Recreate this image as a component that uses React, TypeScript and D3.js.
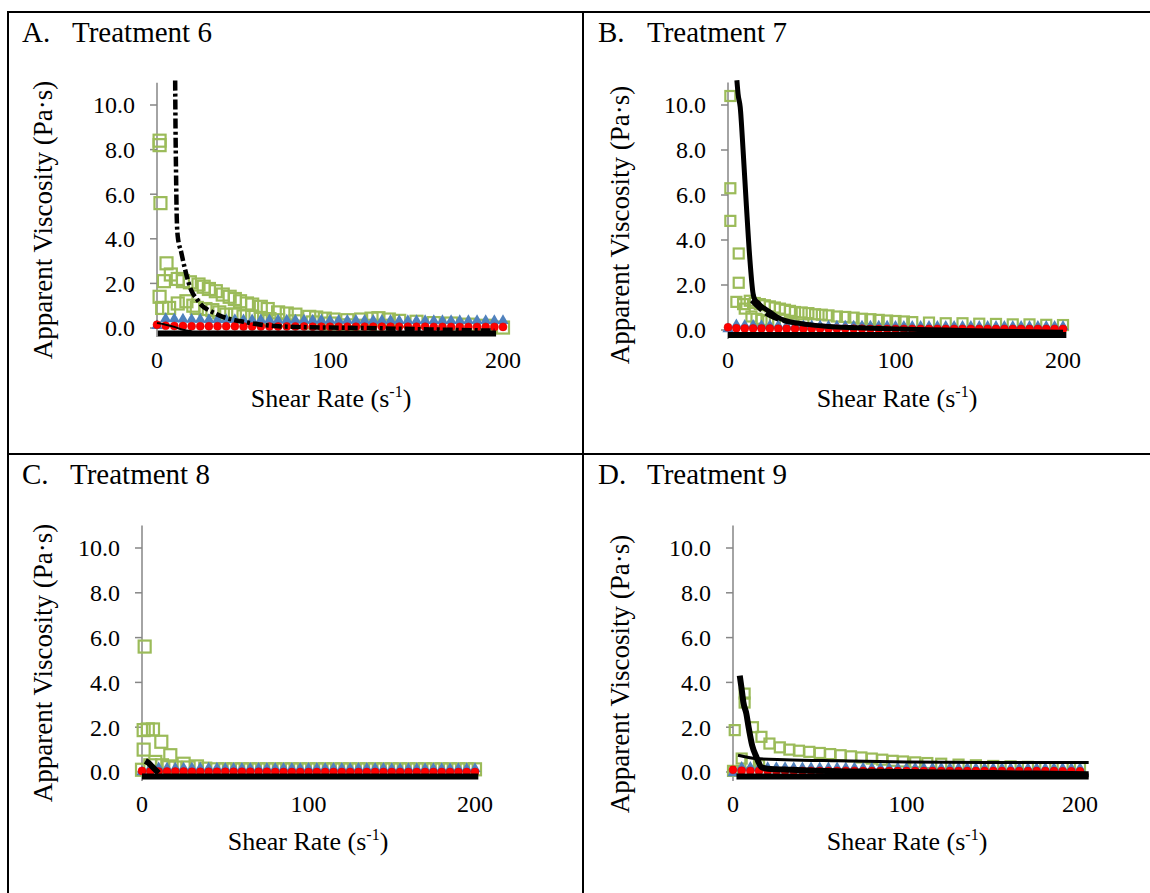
import * as React from 'react'
import * as d3 from 'd3'

type Pt = [number, number]

// shear rate steps of the blue / red replicates
const shearRates = [0, 5, 10, 15, 20, 25, 30, 35, 40, 45, 50, 55, 60, 65, 70, 75, 80, 85, 90, 95, 100,
  105, 110, 115, 120, 125, 130, 135, 140, 145, 150, 155, 160, 165, 170, 175, 180, 185, 190, 195, 200]

const yTicks = [0, 2, 4, 6, 8, 10]
const xTicks = [0, 100, 200]
const panelLetters = ['A.', 'B.', 'C.', 'D.']
const panelNames = ['Treatment 6', 'Treatment 7', 'Treatment 8', 'Treatment 9']

// ---- Treatment 6
const blueA = [0.1, 0.42, 0.4, 0.39, 0.38, 0.38, 0.37, 0.37, 0.37, 0.37,
  0.36, 0.36, 0.36, 0.36, 0.35, 0.35, 0.35, 0.35, 0.35, 0.35,
  0.34, 0.34, 0.34, 0.34, 0.34, 0.34, 0.34, 0.34, 0.33, 0.33,
  0.33, 0.33, 0.33, 0.33, 0.33, 0.33, 0.32, 0.32, 0.32, 0.32, 0.32]
const redA = [0.15, 0.1, 0.09, 0.09, 0.08, 0.08, 0.08, 0.08, 0.08, 0.08,
  0.07, 0.07, 0.07, 0.07, 0.07, 0.07, 0.07, 0.07, 0.06, 0.06,
  0.06, 0.06, 0.06, 0.06, 0.06, 0.06, 0.06, 0.06, 0.06, 0.06,
  0.06, 0.06, 0.05, 0.05, 0.05, 0.05, 0.05, 0.05, 0.05, 0.05, 0.05]
const greenA: Pt[] = [
  [1.5, 8.4], [1.5, 8.2], [2, 5.6], [5.5, 2.9], [4, 2.1], [1.5, 1.4], [3, 0.9],
  [8, 2.4], [12, 2.2], [15, 2.1], [19, 2.05], [24, 1.95], [27, 1.85], [30, 1.75], [34, 1.65],
  [38, 1.5], [42, 1.4], [45, 1.3], [48, 1.2], [52, 1.1], [55, 1.05], [60, 0.95], [64, 0.85],
  [70, 0.7], [75, 0.65], [80, 0.6], [88, 0.5], [92, 0.47], [97, 0.42], [102, 0.38], [110, 0.35],
  [118, 0.38], [124, 0.42], [128, 0.44], [134, 0.38], [140, 0.32], [150, 0.28], [160, 0.22],
  [170, 0.2], [180, 0.15], [190, 0.1], [200, 0.02],
  [7, 0.9], [12, 1.1], [17, 1.2], [21, 1.0], [23, 0.9], [28, 0.85], [32, 0.8], [36, 0.7],
  [40, 0.6], [45, 0.6], [50, 0.52], [55, 0.5], [60, 0.45], [65, 0.4], [70, 0.35], [80, 0.3],
  [90, 0.25], [100, 0.2], [110, 0.12], [120, 0.1], [130, 0.1]
]
const fitA: Pt[] = [[10.5, 11.1], [10.7, 9], [11, 7], [11.4, 5], [12, 4.1], [14, 3.4], [16, 2.7],
  [18, 2.1], [20, 1.65], [23, 1.3], [26, 1.0], [30, 0.8], [35, 0.6], [40, 0.45], [45, 0.35],
  [50, 0.28], [60, 0.15], [70, 0.08], [80, 0.05], [100, 0.02], [120, 0], [150, -0.05], [195, -0.12]]
const fitA2: Pt[] = [[0, 0.22], [5, 0.15], [10, 0.05], [15, -0.08], [20, -0.15]]
const bandA: Pt[] = [[0.5, -0.25], [196, -0.25]]

// ---- Treatment 7
const blueB = [0.05, 0.22, 0.2, 0.2, 0.19, 0.19, 0.19, 0.18, 0.18, 0.18,
  0.18, 0.18, 0.17, 0.17, 0.17, 0.17, 0.17, 0.17, 0.17, 0.17,
  0.16, 0.16, 0.16, 0.16, 0.16, 0.16, 0.16, 0.16, 0.16, 0.16,
  0.15, 0.15, 0.15, 0.15, 0.15, 0.15, 0.15, 0.15, 0.15, 0.15, 0.15]
const redB = [0.12, 0.08, 0.07, 0.07, 0.07, 0.07, 0.06, 0.06, 0.06, 0.06,
  0.06, 0.06, 0.06, 0.06, 0.06, 0.06, 0.06, 0.05, 0.05, 0.05,
  0.05, 0.05, 0.05, 0.05, 0.05, 0.05, 0.05, 0.05, 0.05, 0.05,
  0.05, 0.05, 0.05, 0.05, 0.05, 0.05, 0.05, 0.05, 0.05, 0.05, 0.05]
const greenB: Pt[] = [
  [1.4, 10.4], [1.4, 6.3], [1.4, 4.85], [6.4, 3.4], [6.4, 2.1], [5, 1.25], [9, 1.15], [10, 0.95],
  [13, 1.3], [16, 1.2], [19, 1.15], [22, 1.1], [25, 1.05], [28, 1.0], [31, 0.95], [34, 0.9],
  [37, 0.85], [40, 0.8], [44, 0.78], [48, 0.75], [52, 0.7], [56, 0.68], [60, 0.65], [65, 0.6],
  [70, 0.58], [75, 0.55], [80, 0.5], [85, 0.48], [90, 0.45], [95, 0.42], [100, 0.4], [105, 0.38],
  [110, 0.35], [120, 0.33], [130, 0.3], [140, 0.3], [150, 0.28], [160, 0.27], [170, 0.25],
  [180, 0.25], [190, 0.23], [200, 0.22],
  [14, 0.6], [17, 0.5], [20, 0.45], [24, 0.4], [28, 0.35], [33, 0.3], [38, 0.28], [45, 0.25]
]
const fitB: Pt[] = [[5.3, 11.1], [6, 10.5], [7.3, 9.9], [9, 8], [11, 5.5], [13, 3.2], [15, 1.6],
  [16, 1.35], [18, 1.2], [20, 1.05], [23, 0.9], [26, 0.75], [30, 0.55], [35, 0.4], [40, 0.32],
  [47, 0.25], [60, 0.15], [77, 0.1], [100, 0.05], [130, 0], [160, -0.05], [200, -0.1]]
const fitB2: Pt[] = [[14, 1.3], [18, 1.0], [22, 0.75], [27, 0.55], [33, 0.4], [40, 0.3], [55, 0.2],
  [80, 0.1], [120, 0]]
const bandB: Pt[] = [[0, -0.22], [202, -0.22]]

// ---- Treatment 8
const blueC = [0.0, 0.18, 0.18, 0.17, 0.17, 0.17, 0.17, 0.17, 0.17, 0.17,
  0.16, 0.16, 0.16, 0.16, 0.16, 0.16, 0.16, 0.16, 0.16, 0.16,
  0.16, 0.16, 0.16, 0.16, 0.16, 0.16, 0.16, 0.16, 0.16, 0.16,
  0.15, 0.15, 0.15, 0.15, 0.15, 0.15, 0.15, 0.15, 0.15, 0.15, 0.15]
const redC = [0.05, 0.02, 0.02, 0.02, 0.02, 0.02, 0.01, 0.01, 0.01, 0.01,
  0.01, 0.01, 0.01, 0.01, 0.01, 0.01, 0.0, 0.0, 0.0, 0.0,
  0.0, 0.0, 0.0, 0.0, 0.0, 0.0, 0.0, 0.0, 0.0, 0.0,
  0.0, 0.0, 0.0, 0.0, 0.0, 0.0, 0.0, 0.0, 0.0, 0.0, 0.0]
const greenC: Pt[] = [
  [1.6, 5.6], [1, 1.87], [3.5, 1.9], [6.6, 1.9], [1, 1.0], [11.6, 1.35], [17, 0.75], [25, 0.37],
  [33, 0.25], [0, 0.1], [5, 0.3], [8, 0.45], [12, 0.3], [16, 0.25], [20, 0.2], [28, 0.2],
  [38, 0.15], [45, 0.12], [50, 0.12], [55, 0.12], [60, 0.12], [65, 0.12], [70, 0.12], [75, 0.12],
  [80, 0.12], [85, 0.12], [90, 0.12], [95, 0.12], [100, 0.12], [105, 0.12], [110, 0.12],
  [115, 0.12], [120, 0.12], [125, 0.12], [130, 0.12], [135, 0.12], [140, 0.12], [145, 0.12],
  [150, 0.12], [155, 0.12], [160, 0.12], [165, 0.12], [170, 0.12], [175, 0.12], [180, 0.12],
  [185, 0.12], [190, 0.12], [195, 0.12], [200, 0.12]
]
const fitC: Pt[] = [[2, 0.5], [4, 0.4], [6, 0.25], [8, 0.1], [10, -0.05]]
const bandC: Pt[] = [[0, -0.2], [202, -0.2]]

// ---- Treatment 9
const blueD = [-0.05, 0.2, 0.2, 0.19, 0.19, 0.19, 0.19, 0.18, 0.18, 0.18,
  0.18, 0.18, 0.18, 0.18, 0.18, 0.17, 0.17, 0.17, 0.17, 0.17,
  0.17, 0.17, 0.17, 0.17, 0.17, 0.17, 0.17, 0.17, 0.16, 0.16,
  0.16, 0.16, 0.16, 0.16, 0.16, 0.16, 0.16, 0.16, 0.16, 0.16, 0.16]
const redD = [0.1, 0.06, 0.05, 0.05, 0.05, 0.05, 0.05, 0.05, 0.05, 0.05,
  0.05, 0.05, 0.05, 0.05, 0.05, 0.04, 0.04, 0.04, 0.04, 0.04,
  0.04, 0.04, 0.04, 0.04, 0.04, 0.04, 0.04, 0.04, 0.04, 0.04,
  0.04, 0.04, 0.04, 0.04, 0.04, 0.04, 0.04, 0.04, 0.03, 0.03, 0.03]
const greenD: Pt[] = [
  [1, 1.87], [6.7, 3.5], [6.7, 3.1], [11.5, 2.0], [16.4, 1.57], [21, 1.27], [27, 1.1],
  [32.5, 1.0], [38, 0.95], [44, 0.9], [50, 0.85], [56, 0.8], [62, 0.75], [68, 0.7], [74, 0.65],
  [80, 0.6], [86, 0.55], [92, 0.5], [98, 0.47], [105, 0.43], [112, 0.4], [120, 0.37],
  [130, 0.33], [140, 0.3], [150, 0.27], [160, 0.25], [170, 0.23], [180, 0.2], [190, 0.2],
  [200, 0.18], [0, 0.05], [5, 0.6], [10, 0.4], [15, 0.3]
]
const fitD: Pt[] = [[3.9, 4.3], [5, 3.7], [6, 3.1], [7.7, 2.6], [9, 2.0], [11, 1.2], [13.5, 0.67],
  [16.4, 0.22], [20, 0.15], [33, 0.1], [60, 0.03], [100, 0], [150, -0.05], [205, -0.1]]
const fitD2: Pt[] = [[2.9, 0.75], [13.5, 0.6], [30, 0.55], [60, 0.5], [100, 0.45], [150, 0.42], [205, 0.42]]
const bandD: Pt[] = [[2, -0.2], [205, -0.2]]

const FONT = "'Liberation Serif', 'Times New Roman', serif"
const GREEN = '#9BBB59'
const BLUE = '#4F81BD'
const RED = '#FF0000'

const layouts = [
  { x0: 157, x200: 503, y0: 328, y10: 105, yTitleX: 43, yTitleY: 220, xTitleX: 331, xTitleY: 407, tickY: 368, titleX: 22, titleY: 42, nameX: 72 },
  { x0: 728, x200: 1063, y0: 330, y10: 105, yTitleX: 620, yTitleY: 225, xTitleX: 897, xTitleY: 407, tickY: 368, titleX: 598, titleY: 42, nameX: 647 },
  { x0: 142, x200: 475, y0: 772, y10: 548, yTitleX: 43, yTitleY: 663, xTitleX: 308, xTitleY: 850, tickY: 812, titleX: 22, titleY: 484, nameX: 70 },
  { x0: 733, x200: 1080, y0: 772, y10: 548, yTitleX: 620, yTitleY: 674, xTitleX: 907, xTitleY: 850, tickY: 812, titleX: 598, titleY: 484, nameX: 647 },
]

const panels = [
  { green: greenA, blue: blueA, red: redA, squareSize: 12,
    lines: [{ pts: fitA, w: 4.5, dash: '10,3,3,3' }, { pts: fitA2, w: 2 }, { pts: bandA, w: 6 }] },
  { green: greenB, blue: blueB, red: redB, squareSize: 10,
    lines: [{ pts: fitB2, w: 4, dash: '14,5' }, { pts: fitB, w: 5 }, { pts: bandB, w: 6 }] },
  { green: greenC, blue: blueC, red: redC, squareSize: 12,
    lines: [{ pts: fitC, w: 6 }, { pts: bandC, w: 6 }] },
  { green: greenD, blue: blueD, red: redD, squareSize: 10,
    lines: [{ pts: fitD2, w: 3 }, { pts: fitD, w: 6 }, { pts: bandD, w: 6 }] },
]

function drawPanel(svg: any, i: number) {
  const p = panels[i]
  const l = layouts[i]
  const x = d3.scaleLinear().domain([0, 200]).range([l.x0, l.x200])
  const y = d3.scaleLinear().domain([0, 10]).range([l.y0, l.y10])
  const g = svg.append('g').attr('font-family', FONT).attr('fill', '#000')

  g.append('text').attr('x', l.titleX).attr('y', l.titleY).attr('font-size', 29).text(panelLetters[i])
  g.append('text').attr('x', l.nameX).attr('y', l.titleY).attr('font-size', 29).text(panelNames[i])

  // y axis
  g.append('line')
    .attr('x1', l.x0).attr('x2', l.x0)
    .attr('y1', y(11)).attr('y2', y(-0.4))
    .attr('stroke', '#868686').attr('stroke-width', 1.5)
  g.selectAll('line.tick')
    .data(yTicks).enter().append('line')
    .attr('class', 'tick')
    .attr('x1', l.x0 - 7).attr('x2', l.x0)
    .attr('y1', (d: number) => y(d)).attr('y2', (d: number) => y(d))
    .attr('stroke', '#868686').attr('stroke-width', 1.5)
  g.selectAll('text.ytick')
    .data(yTicks).enter().append('text')
    .attr('class', 'ytick')
    .attr('x', l.x0 - 22).attr('y', (d: number) => y(d))
    .attr('dy', '0.35em').attr('text-anchor', 'end').attr('font-size', 24)
    .text((d: number) => d3.format('.1f')(d))
  g.selectAll('text.xtick')
    .data(xTicks).enter().append('text')
    .attr('class', 'xtick')
    .attr('x', (d: number) => x(d)).attr('y', l.tickY)
    .attr('text-anchor', 'middle').attr('font-size', 24)
    .text((d: number) => d)

  // axis titles
  g.append('text')
    .attr('transform', `translate(${l.yTitleX},${l.yTitleY}) rotate(-90)`)
    .attr('text-anchor', 'middle').attr('dy', '0.35em').attr('font-size', 27)
    .text('Apparent Viscosity (Pa·s)')
  const xt = g.append('text')
    .attr('x', l.xTitleX).attr('y', l.xTitleY)
    .attr('text-anchor', 'middle').attr('font-size', 26)
  xt.append('tspan').text('Shear Rate (s')
  xt.append('tspan').attr('font-size', 16).attr('dy', -10).text('-1')
  xt.append('tspan').attr('dy', 10).text(')')

  // green open squares
  const s = p.squareSize
  g.selectAll('rect.green')
    .data(p.green).enter().append('rect')
    .attr('class', 'green')
    .attr('x', (d: Pt) => x(d[0]) - s / 2).attr('y', (d: Pt) => y(d[1]) - s / 2)
    .attr('width', s).attr('height', s)
    .attr('fill', 'none').attr('stroke', GREEN).attr('stroke-width', 2.2)

  // blue triangles
  const tri = d3.symbol().type(d3.symbolTriangle).size(55)
  g.selectAll('path.blue')
    .data(d3.zip(shearRates, p.blue)).enter().append('path')
    .attr('class', 'blue')
    .attr('transform', (d: number[]) => `translate(${x(d[0])},${y(d[1])})`)
    .attr('d', tri as any)
    .attr('fill', BLUE)

  // red circles
  g.selectAll('circle.red')
    .data(d3.zip(shearRates, p.red)).enter().append('circle')
    .attr('class', 'red')
    .attr('cx', (d: number[]) => x(d[0])).attr('cy', (d: number[]) => y(d[1]))
    .attr('r', 4)
    .attr('fill', RED).attr('stroke', '#D00000').attr('stroke-width', 0.5)

  // black fitted lines
  const line = d3.line<Pt>()
    .x((d) => x(d[0]))
    .y((d) => y(d[1]))
    .curve(d3.curveMonotoneX)
  p.lines.forEach((ln: any) => {
    g.append('path')
      .attr('d', line(ln.pts))
      .attr('fill', 'none')
      .attr('stroke', '#000')
      .attr('stroke-width', ln.w)
      .attr('stroke-dasharray', ln.dash || null)
  })
}

export default function App() {
  const ref = React.useRef<SVGSVGElement>(null)

  React.useEffect(() => {
    const svg = d3.select(ref.current)
    svg.selectAll('*').remove()
    svg.append('rect').attr('width', 1150).attr('height', 893).attr('fill', '#fff')

    panels.forEach((p, i) => drawPanel(svg, i))

    // table borders
    const b = svg.append('g').attr('stroke', '#000').attr('stroke-width', 2)
    b.append('line').attr('x1', 8).attr('x2', 1150).attr('y1', 12).attr('y2', 12)
    b.append('line').attr('x1', 8).attr('x2', 8).attr('y1', 11).attr('y2', 893)
    b.append('line').attr('x1', 583).attr('x2', 583).attr('y1', 11).attr('y2', 893)
    b.append('line').attr('x1', 8).attr('x2', 1150).attr('y1', 454).attr('y2', 454)
  }, [])

  return (
    <svg
      ref={ref}
      width={1150}
      height={893}
      style={{ position: 'absolute', left: 0, top: 0, display: 'block' }}
    />
  )
}
